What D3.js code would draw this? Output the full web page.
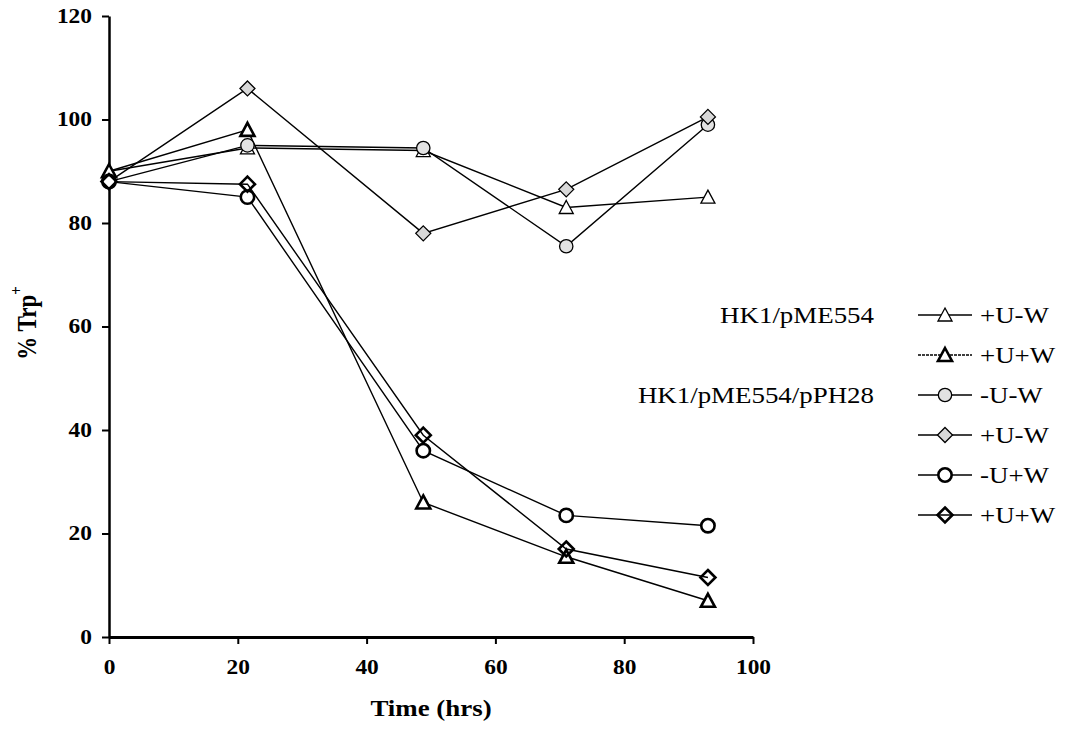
<!DOCTYPE html>
<html>
<head>
<meta charset="utf-8">
<script src="https://cdn.jsdelivr.net/npm/d3@7"></script>
<style>
  body { margin: 0; background: #fff; }
  svg { display: block; }
  text { font-family: "Liberation Serif", "Times New Roman", serif; fill: #000; }
</style>
</head>
<body>
<script>
// sampling times (hrs)
var times = [0, 21.5, 48.8, 71, 93];

// % Trp+ for each strain / condition
var pME554_UnoW = [90, 94.5, 94, 83, 85];
var pME554_UW = [90, 98, 26, 15.5, 7];
var pPH28_noUnoW = [88, 95, 94.5, 75.5, 99];
var pPH28_UnoW = [88, 106, 78, 86.5, 100.5];
var pPH28_noUW = [88, 85, 36, 23.5, 21.5];
var pPH28_UW = [88, 87.5, 39, 17, 11.5];

var seriesNames = ['+U-W', '+U+W', '-U-W', '+U-W', '-U+W', '+U+W'];
var groupNames = ['HK1/pME554', 'HK1/pME554/pPH28'];
var xTicks = [0, 20, 40, 60, 80, 100];
var yTicks = [0, 20, 40, 60, 80, 100, 120];

var width = 1066, height = 730;
var stretch = 1.17; // the scanned figure is a little wider than tall

var svg = d3.select('body').append('svg')
    .attr('width', width)
    .attr('height', height);

var x = d3.scaleLinear().domain([0, 100]).range([109, 753]);
var y = d3.scaleLinear().domain([0, 120]).range([637, 16]);

var series = [
    {vals: pME554_UnoW, shape: 'tri', bold: false, fill: '#fff'},
    {vals: pME554_UW, shape: 'tri', bold: true, fill: '#fff', dash: '3,1'},
    {vals: pPH28_noUnoW, shape: 'circ', bold: false, fill: '#e2e2e2'},
    {vals: pPH28_UnoW, shape: 'dia', bold: false, fill: '#d8d8d8'},
    {vals: pPH28_noUW, shape: 'circ', bold: true, fill: '#fff'},
    {vals: pPH28_UW, shape: 'dia', bold: true, fill: 'none'}
];

function markerPath(shape) {
    if (shape === 'tri') return 'M0,-7L7,6L-7,6Z';
    if (shape === 'dia') return 'M0,-7.5L7.5,0L0,7.5L-7.5,0Z';
    return d3.symbol(d3.symbolCircle, 140)();
}

function label(g, txt, px, py, opts) {
    opts = opts || {};
    return g.append('text')
        .attr('transform', 'translate(' + px + ',' + py + ') scale(' + stretch + ',1)')
        .attr('text-anchor', opts.anchor || 'start')
        .attr('dominant-baseline', 'central')
        .style('font-size', (opts.size || 22) + 'px')
        .style('font-weight', opts.bold ? 'bold' : 'normal')
        .text(txt);
}

// axes
var yAxis = svg.append('g')
    .attr('transform', 'translate(' + x(0) + ',0)')
    .call(d3.axisLeft(y).tickValues(yTicks).tickSize(7).tickSizeOuter(0).tickFormat(d3.format('d')));

yAxis.select('.domain').attr('stroke-width', 2.5);
yAxis.selectAll('.tick line').attr('stroke-width', 2);
yAxis.selectAll('.tick text')
    .attr('x', null).attr('dy', null)
    .attr('transform', 'translate(-17,0) scale(' + stretch + ',1)')
    .attr('dominant-baseline', 'central')
    .style('font-family', '"Liberation Serif", serif')
    .style('font-size', '20px')
    .style('font-weight', 'bold');

var xAxis = svg.append('g')
    .attr('transform', 'translate(0,' + y(0) + ')')
    .call(d3.axisBottom(x).tickValues(xTicks).tickSize(7).tickSizeOuter(0).tickFormat(d3.format('d')));

xAxis.select('.domain').attr('stroke-width', 3);
xAxis.selectAll('.tick line').attr('stroke-width', 2);
xAxis.selectAll('.tick text')
    .attr('y', null).attr('dy', null)
    .attr('transform', 'translate(0,31) scale(' + stretch + ',1)')
    .attr('dominant-baseline', 'central')
    .style('font-family', '"Liberation Serif", serif')
    .style('font-size', '20px')
    .style('font-weight', 'bold');

// axis titles
label(svg, 'Time (hrs)', 431, 708, {anchor: 'middle', size: 23, bold: true});

var yt = svg.append('text')
    .attr('transform', 'translate(26,323) rotate(-90) scale(1,' + stretch + ')')
    .attr('text-anchor', 'middle')
    .attr('dominant-baseline', 'central')
    .style('font-size', '23px')
    .style('font-weight', 'bold');
yt.append('tspan').text('% Trp');
yt.append('tspan').attr('dy', -9).style('font-size', '15px').text('+');

// lines
var line = d3.line()
    .x(function(d, i) { return x(times[i]); })
    .y(function(d) { return y(d); });

svg.append('g').selectAll('path')
    .data(series).enter()
    .append('path')
    .attr('d', function(s) { return line(s.vals); })
    .attr('fill', 'none')
    .attr('stroke', '#000')
    .attr('stroke-width', 1.4);

// markers
series.forEach(function(s) {
    svg.append('g').selectAll('path')
        .data(s.vals).enter()
        .append('path')
        .attr('transform', function(d, i) { return 'translate(' + x(times[i]) + ',' + y(d) + ')'; })
        .attr('d', markerPath(s.shape))
        .attr('fill', s.fill)
        .attr('stroke', '#000')
        .attr('stroke-width', s.bold ? 2.6 : 1.3);
});

// legend
var legend = svg.append('g');
var rowY = d3.scaleLinear().domain([0, 5]).range([315, 515]);

label(legend, groupNames[0], 874, rowY(0), {anchor: 'end', size: 23});
label(legend, groupNames[1], 874, rowY(2), {anchor: 'end', size: 23});

series.forEach(function(s, i) {
    var row = legend.append('g').attr('transform', 'translate(945,' + rowY(i) + ')');
    row.append('line')
        .attr('x1', -27).attr('x2', 27)
        .attr('stroke', '#000')
        .attr('stroke-width', 1.4)
        .attr('stroke-dasharray', s.dash || null);
    row.append('path')
        .attr('d', markerPath(s.shape))
        .attr('fill', s.fill)
        .attr('stroke', '#000')
        .attr('stroke-width', s.bold ? 2.6 : 1.3);
    label(legend, seriesNames[i], 980, rowY(i), {size: 23});
});
</script>
</body>
</html>
